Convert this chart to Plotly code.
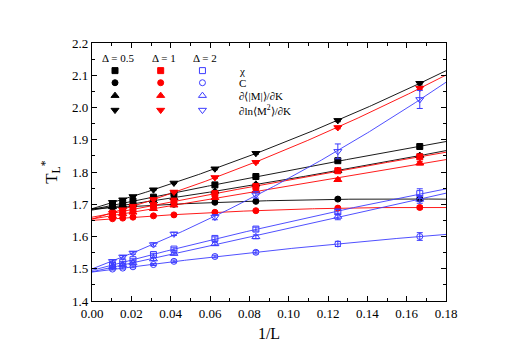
import numpy as np
import plotly.graph_objects as go

# ---------------- data ----------------
L_sizes = [96, 64, 48, 32, 24, 16, 12, 8, 6]
inv_L = [1.0 / l for l in L_sizes]

# Delta = 0.5 (black)
d05_chi  = [1.698, 1.704, 1.710, 1.722, 1.733, 1.760, 1.786, 1.835, 1.879]
d05_C    = [1.690, 1.692, 1.694, 1.697, 1.700, 1.706, 1.709, 1.716, 1.716]
d05_dM   = [1.692, 1.696, 1.700, 1.710, 1.720, 1.740, 1.762, 1.804, 1.851]
d05_dlnM = [1.706, 1.714, 1.724, 1.745, 1.766, 1.810, 1.858, 1.960, 2.075]

# Delta = 1 (red)
d1_chi   = [1.672, 1.678, 1.685, 1.697, 1.710, 1.733, 1.755, 1.804, 1.847]
d1_C     = [1.655, 1.657, 1.660, 1.664, 1.667, 1.675, 1.680, 1.688, 1.690]
d1_dM    = [1.664, 1.670, 1.675, 1.686, 1.697, 1.720, 1.742, 1.776, 1.827]
d1_dlnM  = [1.672, 1.683, 1.694, 1.715, 1.738, 1.783, 1.830, 1.938, 2.060]

# Delta = 2 (blue)
d2_chi   = [1.512, 1.520, 1.528, 1.544, 1.561, 1.594, 1.623, 1.676, 1.733]
d2_C     = [1.499, 1.502, 1.506, 1.513, 1.523, 1.538, 1.551, 1.577, 1.600]
d2_dM    = [1.506, 1.512, 1.518, 1.530, 1.547, 1.577, 1.599, 1.662, 1.715]
d2_dlnM  = [1.523, 1.537, 1.549, 1.575, 1.608, 1.660, 1.729, 1.864, 2.025]

# error bars
err_small = [0.002, 0.002, 0.002, 0.002, 0.002, 0.003, 0.003, 0.004, 0.005]
d2_chi_err  = [0.003, 0.003, 0.003, 0.004, 0.004, 0.005, 0.006, 0.008, 0.015]
d2_C_err    = [0.003, 0.003, 0.003, 0.003, 0.004, 0.004, 0.005, 0.008, 0.012]
d2_dM_err   = [0.003, 0.003, 0.003, 0.004, 0.004, 0.005, 0.006, 0.010, 0.012]
d2_dlnM_err = [0.004, 0.004, 0.004, 0.005, 0.005, 0.008, 0.010, 0.023, 0.028]

deltas = ["Δ = 0.5", "Δ = 1", "Δ = 2"]
quantities = ["χ", "C", "∂⟨|M|⟩/∂K", "∂ln⟨M<sup>2</sup>⟩/∂K"]

BLACK = "#000000"
RED = "#ff0000"
BLUE = "#3c3cff"

series = [
    (d05_chi, err_small, BLACK, "square"),
    (d05_C, err_small, BLACK, "circle"),
    (d05_dM, err_small, BLACK, "triangle-up"),
    (d05_dlnM, err_small, BLACK, "triangle-down"),
    (d1_chi, err_small, RED, "square"),
    (d1_C, err_small, RED, "circle"),
    (d1_dM, err_small, RED, "triangle-up"),
    (d1_dlnM, err_small, RED, "triangle-down"),
    (d2_chi, d2_chi_err, BLUE, "square-open"),
    (d2_C, d2_C_err, BLUE, "circle-open"),
    (d2_dM, d2_dM_err, BLUE, "triangle-up-open"),
    (d2_dlnM, d2_dlnM_err, BLUE, "triangle-down-open"),
]

fig = go.Figure()
xfit = np.linspace(0.0, 0.18, 200)
x_arr = np.array(inv_L)

for vals, errs, col, sym in series:
    coef = np.polyfit(x_arr, np.array(vals), 2)
    fig.add_trace(go.Scatter(x=xfit, y=np.polyval(coef, xfit), mode="lines",
                             line=dict(color=col, width=0.9), showlegend=False,
                             hoverinfo="skip"))
for vals, errs, col, sym in series:
    size = 7 if "triangle" in sym else 6
    fig.add_trace(go.Scatter(
        x=inv_L, y=vals, mode="markers",
        marker=dict(symbol=sym, color=col, size=size, line=dict(color=col, width=1)),
        error_y=dict(type="data", array=errs, color=col, thickness=1, width=3),
        showlegend=False))

# ---------------- custom legend (overlay axis in [0,1]) ----------------
leg_cols = [0.065, 0.194, 0.312]
leg_rows = [0.893, 0.846, 0.796, 0.740]
leg_colors = [BLACK, RED, BLUE]
leg_syms = [["square", "circle", "triangle-up", "triangle-down"],
            ["square", "circle", "triangle-up", "triangle-down"],
            ["square-open", "circle-open", "triangle-up-open", "triangle-down-open"]]
for ci, cx in enumerate(leg_cols):
    for ri, ry in enumerate(leg_rows):
        sym = leg_syms[ci][ri]
        fig.add_trace(go.Scatter(
            x=[cx], y=[ry], xaxis="x2", yaxis="y2", mode="markers",
            marker=dict(symbol=sym, color=leg_colors[ci],
                        size=7 if "triangle" in sym else 6,
                        line=dict(color=leg_colors[ci], width=1)),
            showlegend=False, hoverinfo="skip"))

FONT = "Liberation Serif, Times New Roman, serif"
annotations = []
for ci, cx in enumerate(leg_cols):
    annotations.append(dict(x=cx + 0.008, y=0.943, xref="paper", yref="paper",
                            text=deltas[ci], showarrow=False,
                            xanchor="center", yanchor="middle",
                            font=dict(family=FONT, size=11, color="black")))
for ri, ry in enumerate(leg_rows):
    annotations.append(dict(x=0.409, y=ry, xref="paper", yref="paper",
                            text=quantities[ri], showarrow=False,
                            xanchor="left", yanchor="middle",
                            font=dict(family=FONT, size=11, color="black")))

axis_common = dict(showline=True, linecolor="black", linewidth=1.3, mirror="allticks",
                   ticks="inside", ticklen=5, tickwidth=1, tickcolor="black",
                   showgrid=False, zeroline=False,
                   tickfont=dict(family=FONT, size=13, color="black"))

fig.update_layout(
    width=510, height=354,
    margin=dict(l=84, r=72, t=35, b=61),
    plot_bgcolor="white", paper_bgcolor="white",
    font=dict(family=FONT, color="black"),
    annotations=annotations,
    xaxis=dict(range=[0, 0.18], dtick=0.02, tickformat=".2f",
               minor=dict(dtick=0.01, ticks="inside", ticklen=3, tickcolor="black"),
               title=dict(text="1/L", font=dict(family=FONT, size=16), standoff=8),
               **axis_common),
    yaxis=dict(range=[1.4, 2.2], dtick=0.1, tickformat=".1f",
               minor=dict(dtick=0.05, ticks="inside", ticklen=3, tickcolor="black"),
               title=dict(text="T<sub>L</sub><sup>*</sup>", font=dict(family=FONT, size=17),
                          standoff=10),
               **axis_common),
    xaxis2=dict(range=[0, 1], overlaying="x", visible=False, fixedrange=True),
    yaxis2=dict(range=[0, 1], overlaying="y", visible=False, fixedrange=True),
)

fig.write_html("out.html")
